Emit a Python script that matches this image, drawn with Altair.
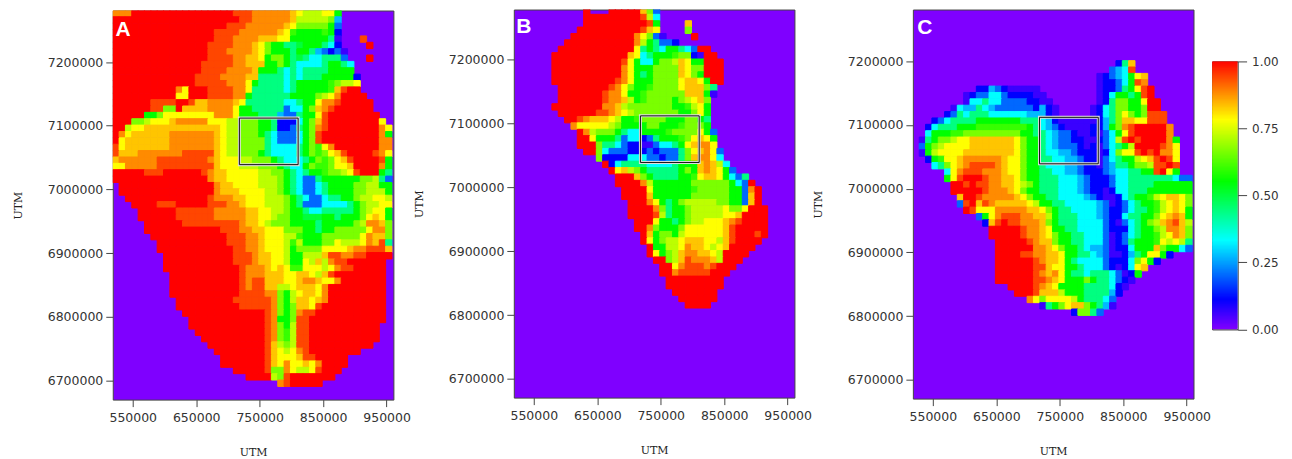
import re
import altair as alt
import pandas as pd

LEVELS = {'.':0,'v':.06,'b':.11,'a':.2,'s':.27,'c':.33,'t':.44,'e':.5,'g':.55,'h':.6,'l':.66,
          'n':.72,'y':.78,'m':.83,'o':.88,'q':.94,'r':1}
STOPS = [0, .11, .33, .55, .78, 1]
COLORS = ['#7f00ff', '#0000ff', '#00ffff', '#00ff00', '#ffff00', '#ff0000']
X_TICKS = [550000, 650000, 750000, 850000, 950000]
Y_TICKS = [6700000, 6800000, 6900000, 7000000, 7100000, 7200000]
BAR_TICKS = [0, .25, .5, .75, 1]
BAR_VALUES = [i / 200 for i in range(200)]
BOX_X = (718000, 810600)
BOX_Y = (7039000, 7112000)

ROWS_A = [
"o3 r16 q3 o6 m y n3 y2 g","r20 q2 o6 m n5 l s","r18 q3 o6 m y l5 g a","r16 q4 o6 m y h g4 h g b",
"r16 q3 o4 m3 y2 g6 t v .3 q","r15 q4 o3 m y l g2 t2 e g3 t c b .4 r","r15 q3 o4 m y l g3 t g2 t s a b a v",
"r15 q4 o2 m2 y g l2 g t e t c2 t3 a .3 r","r14 q5 o2 m3 g2 l g t c4 t g2 t c","r14 q4 o4 m g3 t c t c t4 g4",
"r13 q4 o4 m2 t4 c t c t3 g5 b","r13 q5 o3 y g t4 c t g5 h l n2 y","r10 o y r3 q4 o2 y t5 c t g5 h m q r2",
"r10 y2 r3 q4 o2 g t6 g4 l n y o r4","r6 q4 r2 q m2 o4 m y t6 c2 t g2 y o2 q r5","r6 q2 l2 r m4 o4 y g2 t5 a c2 g l m o q r6",
"r5 g2 l y8 o3 y g3 t3 s a2 t g2 y q r8","r3 l2 n y3 m o5 y3 n2 l3 g2 t b3 c g l m q r8 y",
"r2 n y2 m5 m6 m y n2 l3 g2 t b2 a t g l o q r8 o y","r o y m6 o7 m y n2 l3 g t c a3 c g l q r9 o g",
"r y m m6 o7 m y n2 l4 t c a3 c g l q r9 o2","q y m7 o7 m y n2 l4 t c4 t g l h y o r7 o2",
"q m3 o4 o3 q5 m y n2 l3 g t c4 t g l h l y m q r4 q o y","m o6 q8 o m y3 n2 l3 g t c3 t g l h l y m q r4 q g",
"y2 o o4 q7 q2 m y3 n3 l3 g t c2 g l h2 l y2 m r4 o g","r5 q3 r6 q o m2 y5 n2 l2 g t c t g2 h l2 n y q r3 g t",
"r15 o m2 y5 n3 l g t c a2 t g6 l2 n t a",". r15 o m2 y4 n3 l g t c a2 c t g4 l2 n2 g2",
". r15 o m3 y4 n2 l g t c a2 c t g4 l2 n3 g",".2 r13 q o3 m2 y3 n3 l g t c a2 c t2 g2 l n2 y2 n",
".3 r4 q3 r5 q3 o2 m y3 n3 l g t a3 c4 t g l n2 y2",".4 r6 q6 o5 m2 y2 n2 l g2 t c2 t5 g l n y2 g",
".4 r6 q6 o5 m2 y2 n l2 g2 e3 g2 t g3 l y m y g",".5 r6 q9 o m2 y n l3 g4 t g5 l n o2 m l",
".5 r12 q3 o2 m2 y3 l3 g2 t g2 l5 y o2 l",".6 r12 q3 o2 m y3 n2 h g3 l6 y o m2 l",
".7 r11 q3 o2 m y3 n h n g3 l2 y n3 y o m q t",".7 r12 q2 o2 m y3 n g l4 y4 m o2 q3 m",
".8 r11 q3 o m2 y2 n g2 n3 m q2 o2 q2 r4",".8 r11 q3 o m2 y2 n g2 y n m n o q2 r6",
".8 r12 q o3 m y m y h2 y3 n y o q2 r5",".9 r11 q o3 m3 y2 m2 y n m q r8",
".9 r11 q o q2 m3 y2 m o2 m y2 o r7",".9 r11 q o q2 m2 n2 y m3 y o r9",".9 r11 q4 o2 l g n y m2 y o r9",
".10 r9 q6 o l g n m2 y m o r9",".10 r10 q5 o l g l m2 y q r10",".11 r13 q o l g l o q2 r11",
".12 r12 q o g2 l q2 r12",".12 r12 q o l g n q2 r11",".13 r11 q o l h n q2 r11",".14 r10 q o l h n q2 r11",
".15 r9 q m n l n q2 r10",".16 r8 q m y n y o q r8",".17 r7 q m y3 m q2 r5",".17 r7 q m y o y2 m y o r4",
".19 r5 q l2 o y n2 y q r3",".21 r4 n l q r7",".26 o q r5",
]

ROWS_B = [
".11 r .3 r5 m l a",".11 r9 q n c",".11 r10 q g .4 m",".10 r10 q m y .4 l",".9 r10 o y l a v .4 r",
".8 r11 o n g t a2 b",".7 r12 y t g t c g2 t c a r2",".6 r12 m y c t g3 h l2 b v r2",".6 r11 q y g c2 g l2 n m y g2 r3",
".6 r11 o y g3 l4 m y l2 r3",".6 r11 o y g t g l4 m y l g r3",".6 r10 q o y g3 l4 y m2 y g r2",
".7 r8 q o y l g2 h l4 y m3 l t",".7 r7 q o2 y g2 h l6 m3 g v",".7 r7 q o2 m n g h l4 g l n y m l",
".6 r8 o2 m n l7 g2 h n y g",".7 r6 q2 o m y n l7 g2 l y g",".8 r2 q o m3 y n g2 h l4 g3 l2 g t",
".9 o y5 n l g4 l2 g3 h l3 g",".10 r o n l3 g t c2 g4 h l4 y g a",".10 r2 y g3 t a c2 b a t g3 h l y m y g",
".10 r3 l t2 c a b2 v2 a c2 t g y m o2 y",".11 r2 l c a3 b3 a b a3 t l y m o y a",".13 l b4 c3 a2 b a2 t l m o2 y c",
".14 r b c t4 c4 t g3 m o m n c",".15 r y m n l g t5 g l g m o m y g a",".16 r3 m l g t4 g2 h y m2 y g c a t",
".16 r4 o n g6 l6 g c a r",".17 r4 y g6 h l5 g2 a o r",".17 r4 m g6 l6 g2 a m r",
".18 r3 o y g t g l n5 l2 g2 a m r",".18 r4 o l t g2 l n5 y l2 y r3",".18 r4 q n t g2 l n5 y2 m r4",
".19 r3 y g2 t g l n2 y3 m o q r4",".19 r2 o l g3 l y6 m q r5",".20 r m g l2 g n y6 m q r3 q r",
".20 r y g l n2 y m3 y2 n m q r4",".21 r g2 n2 y o m2 y n y m r4",".21 r y g l n m o2 m2 y n r4",
".22 r2 l n m q o3 m n r3",".23 r2 y o q3 o q r3",".23 r2 o q5 r3",".24 r9",".24 r9",".25 r7",".26 r6",".27 r4",
]

ROWS_C = [
"","","","","","","","",
".32 b t m",".31 a s c q",".29 v b a s c g y m",".29 v b2 a c g q o",
".10 b2 s a b v5 .9 v b2 a t g y q r",".8 v b a2 c2 a b4 v2 .8 v b c g2 t g q r",
".8 v c2 t c2 a4 b2 v2 .7 v b t l2 g2 y r2",".6 v c s2 t c s a6 b s b v .5 v b c t l2 g2 l r2",
".5 b a t c t3 c6 s3 b v .5 v b c t l y l g l q3",".3 b a c t4 g7 t3 c s b v6 b s t l m2 y2 q3",
".2 b c t3 g3 h8 g t c s a b v4 b2 s g l o q r5 o",".2 c g3 h2 l9 g2 t2 c s a2 b v2 b v a c g y q r5 o",
". v t g l2 n y2 m7 y l g2 t c s a2 b2 v2 b a c n q r q r4 o g",
". a g l n y4 m7 y l g2 t c s a3 b v b v a c t g n r4 q o y",
". v g n y4 m8 y l g2 t c2 s2 a b3 v b c l y2 q r q r o2 y",
".2 b g h y2 m o6 m y2 l g2 t2 c2 s2 a b2 v a c t g2 n y m q r q y",
".3 c t l y m o q4 o m y2 l g2 t c3 s2 a b2 v a s t2 g l2 n q2 r q",
".5 c y o q3 o3 m y2 l g2 t2 c2 s2 a b3 a s c2 t2 g2 q r y g",
".5 g y q r3 q o2 m2 y l g2 t3 c3 s a b3 a c2 t7 c a2",
".6 r2 q r q2 o2 m2 y n l g t3 c3 s a b3 a c2 t4 g6",
".6 r5 q o3 m y l g2 t3 c3 s a b2 v b c2 t3 g7",
".7 m r2 q o5 m y l g2 t2 c4 s a b v2 b c t g2 h n y m2 y l",
".7 a q r m q o m5 y n g2 t2 c5 s a v b a c t g2 h n y m y l",
".8 r q y3 o5 m2 y l g t2 c4 s a b2 a c t2 g h n y m y g",
".10 a g y o q3 o2 m2 n g t3 c3 s a b2 c t2 g2 l y m o m g",
".11 b m q r q2 o3 m l g t3 c4 a b v a c t g l n m o q m n",
".12 r5 q o2 m y g2 t2 c4 a b3 c t g2 l n o2 m l",
".12 r5 q o2 m y l g2 t2 c3 a v b a c t g2 h n y o m l",
".13 r5 q o m2 l g2 t2 c3 a v b a t g3 h y n y n t",
".13 r6 o2 m y l g2 t c s2 a v b2 c g3 m l g2 c a",
".13 r4 q2 o2 m2 y g2 t2 c s a v2 b s t g y2 g b",
".13 r6 q o m2 y g t c4 a b3 c l y g b",
".13 r6 q2 m y2 g2 t c3 a b v b c y m",
".13 r6 q o m o y g t2 c t3 c a v b g",
".13 r6 q2 o m y g3 l g t2 c a b v",
".15 r4 q o m y g4 t4 c b v",
".16 r3 q m3 n g3 t4 s b",
".18 o y l y4 n g t3 c a",
".20 v t g l y m2 l g t s v",
".25 b l2 t a",
]

VIOLET = COLORS[0]
SCALE = alt.Scale(domain=STOPS, range=COLORS, interpolate='rgb')
X0, Y0, CELL = 518500, 7281000, 10000
W = 281.3


def cells(rows):
    out = []
    for r, row in enumerate(rows):
        c = 0
        for ch, n in re.findall(r'([.a-z])(\d*)', row):
            for _ in range(int(n) if n else 1):
                if ch != '.':
                    out.append(dict(x0=X0 + c * CELL, x1=X0 + (c + 1) * CELL,
                                    y1=Y0 - r * CELL, y0=Y0 - (r + 1) * CELL, v=LEVELS[ch]))
                c += 1
    return pd.DataFrame(out)


def spacer(w, h):
    return (alt.Chart(pd.DataFrame({'s': [0]})).mark_point(opacity=0, size=0)
            .encode(x=alt.value(0), y=alt.value(0)).properties(width=w, height=h))


def panel(rows, letter, lx, ly, ydom, h, xdom=(518500, 960700)):
    xs = alt.Scale(domain=list(xdom), nice=False, zero=False)
    ys = alt.Scale(domain=list(ydom), nice=False, zero=False)
    xa = alt.Axis(values=X_TICKS, format='d', title='UTM', grid=False, labelFont='DejaVu Sans', labelFontSize=12.5,
                  labelColor='#333', tickColor='#444', tickSize=7, domain=False, labelPadding=5, labelOverlap=False,
                  titleFont='DejaVu Serif', titleFontSize=11, titleFontWeight='normal', titleColor='#222', titlePadding=23)
    ya = alt.Axis(values=Y_TICKS, format='d', title='UTM', grid=False, labelFont='DejaVu Sans', labelFontSize=12.5,
                  labelColor='#333', tickColor='#444', tickSize=7, domain=False, labelPadding=3, labelOverlap=False,
                  titleFont='DejaVu Serif', titleFontSize=11, titleFontWeight='normal', titleColor='#222', titlePadding=24)
    base = alt.Chart(cells(rows)).mark_rect(clip=True, strokeWidth=1).encode(
        x=alt.X('x0:Q', scale=xs, axis=xa), x2='x1:Q',
        y=alt.Y('y0:Q', scale=ys, axis=ya), y2='y1:Q',
        color=alt.Color('v:Q', scale=SCALE, legend=None),
        stroke=alt.Stroke('v:Q', scale=SCALE, legend=None))
    box = pd.DataFrame({'x0': [BOX_X[0]], 'x1': [BOX_X[1]], 'y0': [BOX_Y[0]], 'y1': [BOX_Y[1]]})
    enc = dict(x=alt.X('x0:Q', scale=xs, axis=xa), x2='x1:Q', y=alt.Y('y0:Q', scale=ys, axis=ya), y2='y1:Q')
    halo = alt.Chart(box).mark_rect(fill=None, filled=False, stroke='#dddddd', strokeWidth=3).encode(**enc)
    line = alt.Chart(box).mark_rect(fill=None, filled=False, stroke='#111111', strokeWidth=1).encode(**enc)
    txt = alt.Chart(pd.DataFrame({'t': [letter]})).mark_text(
        font='Liberation Sans', fontSize=21, fontWeight='bold', color='white', align='center', baseline='middle'
    ).encode(text='t:N', x=alt.value(lx), y=alt.value(ly))
    return alt.layer(base, halo, line, txt).properties(
        width=W, height=h, view=alt.ViewBackground(fill=VIOLET, stroke='#444444', strokeWidth=1))


A = panel(ROWS_A, 'A', 10.3, 20, (6670300, 7280800), 390)
B = panel(ROWS_B, 'B', 10, 18, (6670700, 7278500), 389)
C = panel(ROWS_C, 'C', 12, 19, (6670300, 7281250), 390)

bar_df = pd.DataFrame({'lo': BAR_VALUES, 'hi': [v + .01 for v in BAR_VALUES], 'v': BAR_VALUES})
bar = alt.Chart(bar_df).mark_rect(clip=True).encode(
    x=alt.value(0), x2=alt.value(25.5),
    y=alt.Y('lo:Q', scale=alt.Scale(domain=[0, 1], nice=False),
            axis=alt.Axis(orient='right', values=BAR_TICKS, format='.2f', title=None, grid=False, domain=False,
                          tickSize=9, tickColor='#444', labelColor='#333', labelFont='DejaVu Sans', labelFontSize=12,
                          labelPadding=5)),
    y2='hi:Q',
    color=alt.Color('v:Q', scale=SCALE, legend=None),
).properties(width=25.5, height=268.6, view=alt.ViewBackground(stroke='#222222', strokeWidth=1))

colA = alt.vconcat(spacer(W, 1), A, spacing=0, bounds='flush')
colBar = alt.vconcat(spacer(25.5, 51.5), bar, spacing=0, bounds='flush')

chart = alt.hconcat(colA, spacer(401.8, 10), B, spacer(117.2, 10), C, spacer(18, 10), colBar,
                    spacing=0, bounds='flush').properties(
    padding={'left': 3, 'top': 0, 'right': 5, 'bottom': 5}, background='white'
).configure_view(strokeWidth=0).resolve_scale(color='independent', stroke='independent')

chart.save("out.html", embed_options={"renderer": "svg", "actions": False})
